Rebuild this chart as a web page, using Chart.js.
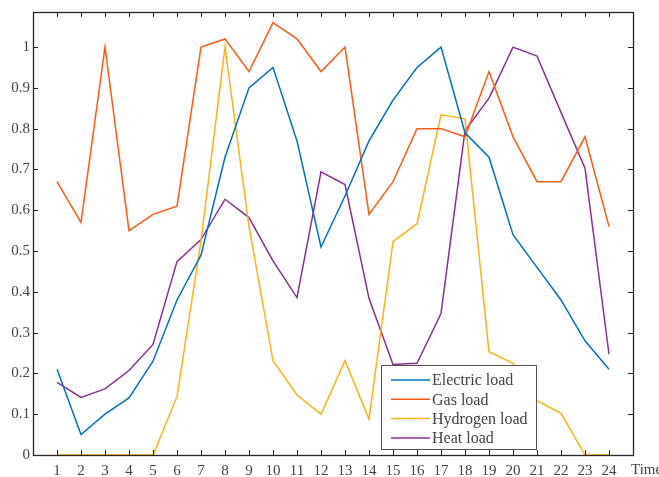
<!DOCTYPE html>
<html>
<head>
<meta charset="utf-8">
<script src="https://cdn.jsdelivr.net/npm/chart.js@4/dist/chart.umd.min.js"></script>
<style>
  html, body { margin: 0; padding: 0; background: #fff; }
  #wrap { width: 659px; height: 477px; }
</style>
</head>
<body>
<div id="wrap"><canvas id="myChart"></canvas></div>
<script>
// data
const hours = [1,2,3,4,5,6,7,8,9,10,11,12,13,14,15,16,17,18,19,20,21,22,23,24];
const electricLoad = [0.21,0.05,0.10,0.14,0.23,0.38,0.49,0.73,0.90,0.95,0.77,0.51,0.635,0.77,0.87,0.95,1.00,0.79,0.73,0.54,0.46,0.38,0.28,0.21];
const gasLoad = [0.67,0.57,1.00,0.55,0.59,0.61,1.00,1.02,0.94,1.06,1.02,0.94,1.00,0.59,0.67,0.80,0.80,0.78,0.94,0.78,0.67,0.67,0.78,0.56];
const hydrogenLoad = [0,0,0,0,0,0.143,0.525,1.00,0.56,0.231,0.147,0.10,0.231,0.088,0.523,0.567,0.834,0.824,0.253,0.225,0.133,0.102,0,0];
const heatLoad = [0.178,0.141,0.162,0.207,0.271,0.474,0.528,0.627,0.582,0.476,0.386,0.694,0.663,0.384,0.222,0.225,0.347,0.795,0.875,1.00,0.978,0.84,0.703,0.247];
const yTicks = [0,0.1,0.2,0.3,0.4,0.5,0.6,0.7,0.8,0.9,1];
const seriesNames = ['Electric load', 'Gas load', 'Hydrogen load', 'Heat load'];
const seriesColors = ['#0072BD', '#FF5A12', '#FFB30F', '#8A2E96'];

const FONT = '"Liberation Serif", "Times New Roman", serif';
const TXT = '#444444';

function pts(vals) {
  return vals.map((v, i) => ({ x: hours[i], y: v }));
}

const datasets = [electricLoad, gasLoad, hydrogenLoad, heatLoad].map((vals, i) => ({
  label: seriesNames[i],
  data: pts(vals),
  borderColor: seriesColors[i],
  backgroundColor: seriesColors[i],
  borderWidth: 1.5,
  pointRadius: 0,
  tension: 0,
  fill: false
}));

// box, inward ticks, legend and "Time" label
const frame = {
  id: 'frame',
  afterDraw(chart) {
    const ctx = chart.ctx;
    const a = chart.chartArea;
    const xs = chart.scales.x, ys = chart.scales.y;
    const tl = 5;
    ctx.save();
    ctx.strokeStyle = '#262626';
    ctx.lineWidth = 1;
    ctx.beginPath();
    hours.forEach(h => {
      const px = Math.round(xs.getPixelForValue(h)) + 0.5;
      ctx.moveTo(px, a.bottom); ctx.lineTo(px, a.bottom - tl);
      ctx.moveTo(px, a.top); ctx.lineTo(px, a.top + tl);
    });
    yTicks.forEach(t => {
      const py = Math.round(ys.getPixelForValue(t)) + 0.5;
      ctx.moveTo(a.left, py); ctx.lineTo(a.left + tl, py);
      ctx.moveTo(a.right, py); ctx.lineTo(a.right - tl, py);
    });
    ctx.stroke();
    ctx.lineWidth = 1.3;
    ctx.strokeRect(Math.round(a.left) + 0.5, Math.round(a.top) + 0.5,
      Math.round(a.right - a.left), Math.round(a.bottom - a.top));

    // legend
    const lx = 381, ly = 365, lw = 155, lh = 84;
    ctx.fillStyle = '#fff';
    ctx.fillRect(lx, ly, lw, lh);
    ctx.strokeStyle = '#555';
    ctx.lineWidth = 1;
    ctx.strokeRect(lx + 0.5, ly + 0.5, lw, lh);
    ctx.font = '16px ' + FONT;
    ctx.textBaseline = 'middle';
    ctx.textAlign = 'left';
    chart.data.datasets.forEach((ds, i) => {
      const cy = ly + 15 + i * 19.3;
      ctx.strokeStyle = ds.borderColor;
      ctx.lineWidth = 1.5;
      ctx.beginPath();
      ctx.moveTo(lx + 10, cy); ctx.lineTo(lx + 49, cy);
      ctx.stroke();
      ctx.fillStyle = TXT;
      ctx.fillText(ds.label, lx + 51, cy + 1);
    });

    // axis name
    ctx.font = '15px ' + FONT;
    ctx.fillStyle = TXT;
    ctx.fillText('Time', 631, 470);
    ctx.restore();
  }
};

const ctx = document.getElementById('myChart').getContext('2d');
const myChart = new Chart(ctx, {
  type: 'line',
  data: { datasets: datasets },
  options: {
    responsive: true,
    maintainAspectRatio: false,
    animation: false,
    layout: { padding: { left: 0, top: 12, right: 26, bottom: 0 } },
    plugins: {
      legend: { display: false },
      tooltip: { enabled: false }
    },
    scales: {
      x: {
        type: 'linear',
        min: 0,
        max: 25,
        afterBuildTicks: s => { s.ticks = hours.map(h => ({ value: h })); },
        afterFit: s => { s.height = 22; },
        grid: { display: false, drawTicks: false },
        border: { display: false },
        ticks: {
          autoSkip: false,
          maxRotation: 0,
          padding: 7,
          color: TXT,
          font: { family: FONT, size: 15 },
          callback: v => String(v)
        }
      },
      y: {
        type: 'linear',
        min: 0,
        max: 1.086,
        afterBuildTicks: s => { s.ticks = yTicks.map(t => ({ value: t })); },
        afterFit: s => { s.width = 33; },
        grid: { display: false, drawTicks: false },
        border: { display: false },
        ticks: {
          padding: 3,
          color: TXT,
          font: { family: FONT, size: 15 },
          callback: v => String(+v.toFixed(1))
        }
      }
    }
  },
  plugins: [frame]
});
</script>
</body>
</html>
